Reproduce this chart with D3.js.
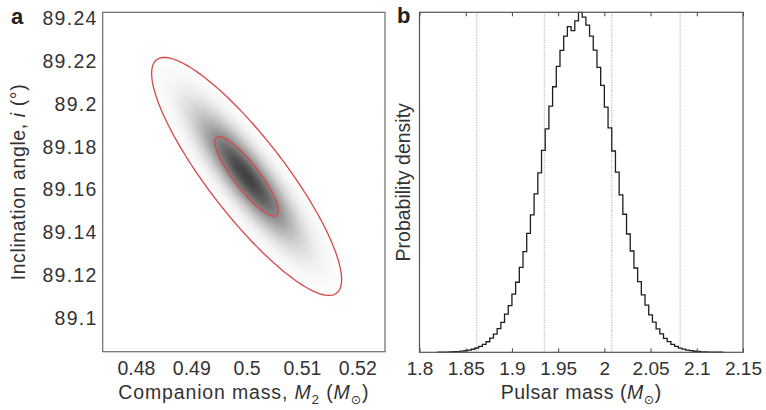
<!DOCTYPE html>
<html>
<head>
<meta charset="utf-8">
<script src="https://cdn.jsdelivr.net/npm/d3@7/dist/d3.min.js"></script>
<style>
  body { margin: 0; background: #fff; }
  svg { display: block; font-family: "Liberation Sans", Arial, sans-serif; }
  .tick text { font-size: 19.5px; fill: #333; }
  .ya .tick text { letter-spacing: 1.3px; }
  .xb .tick text { font-size: 19px; }
</style>
</head>
<body>
<svg id="chart" width="766" height="410"></svg>
<script>
'use strict';

// panel a: joint posterior of companion mass and inclination
const m2Ticks = [0.48, 0.49, 0.50, 0.51, 0.52];
const incTicks = [89.1, 89.12, 89.14, 89.16, 89.18, 89.2, 89.22, 89.24];
const m2Center = 0.500;
const incCenter = 89.1662;
const m2Sigma = 0.00572;
const incSigma = 0.01851;
const m2IncCorr = -0.866;
const contourLevels = [1, 3];

// panel b: pulsar mass histogram
const massTicks = [1.8, 1.85, 1.9, 1.95, 2.0, 2.05, 2.1, 2.15];
const massBinStart = 1.820;
const massBinWidth = 0.004;
const massDensity = [
  0.0003, 0.0005, 0.0007, 0.0010, 0.0016, 0.0022, 0.0033, 0.0046, 0.0066, 0.0090,
  0.0127, 0.0172, 0.0235, 0.0310, 0.0415, 0.0532, 0.0695, 0.0878, 0.112, 0.137,
  0.171, 0.206, 0.250, 0.296, 0.350, 0.404, 0.466, 0.528, 0.594, 0.657,
  0.724, 0.781, 0.841, 0.888, 0.930, 0.958, 0.946, 0.975, 1.000, 0.986,
  0.962, 0.930, 0.889, 0.838, 0.785, 0.721, 0.660, 0.592, 0.530, 0.463,
  0.406, 0.348, 0.298, 0.248, 0.208, 0.169, 0.139, 0.110, 0.0885, 0.0688,
  0.0540, 0.0408, 0.0313, 0.0231, 0.0175, 0.0124, 0.0093, 0.0064, 0.0047, 0.0031,
  0.0023, 0.0015, 0.0011, 0.0007, 0.0005, 0.0003, 0.0002
];
const confidenceBounds = [1.862, 1.935, 2.008, 2.082];

const svg = d3.select("#chart");

// ---------- panel a ----------
const boxA = { left: 102.7, right: 385, top: 12.3, bottom: 351.7 };

const xA = d3.scaleLinear().domain([0.474, 0.525]).range([boxA.left, boxA.right]);
const yA = d3.scaleLinear().domain([89.0844, 89.2428]).range([boxA.bottom, boxA.top]);

const defs = svg.append("defs");
defs.append("clipPath").attr("id", "clipA")
  .append("rect")
  .attr("x", boxA.left).attr("y", boxA.top)
  .attr("width", boxA.right - boxA.left).attr("height", boxA.bottom - boxA.top);

// covariance in pixel space, used for the shaded density blob
const ux = xA(m2Center + m2Sigma) - xA(m2Center);
const uy = yA(incCenter + incSigma) - yA(incCenter);
const ca = ux * ux, cc = uy * uy, cb = m2IncCorr * ux * uy;
const half = Math.sqrt(((ca - cc) / 2) ** 2 + cb * cb);
const lam1 = (ca + cc) / 2 + half;
const lam2 = (ca + cc) / 2 - half;
const theta = 0.5 * Math.atan2(2 * cb, ca - cc) * 180 / Math.PI;

const blobK = 3.6;
const grad = defs.append("radialGradient").attr("id", "dens");
d3.range(0, 1.0001, 0.05).forEach(function (o) {
  const r = blobK * o;
  grad.append("stop")
    .attr("offset", o)
    .attr("stop-color", "#2b2b2b")
    .attr("stop-opacity", 0.9 * Math.exp(-r * r / 2));
});

const gA = svg.append("g").attr("clip-path", "url(#clipA)");
gA.append("ellipse")
  .attr("cx", 0).attr("cy", 0)
  .attr("rx", blobK * Math.sqrt(lam1))
  .attr("ry", blobK * Math.sqrt(lam2))
  .attr("transform", `translate(${xA(m2Center)},${yA(incCenter)}) rotate(${theta})`)
  .attr("fill", "url(#dens)");

// confidence contours
const rhoC = Math.sqrt(1 - m2IncCorr * m2IncCorr);
const contourLine = d3.line()
  .x(function (t) { return t.x; })
  .y(function (t) { return t.y; })
  .curve(d3.curveLinearClosed);

contourLevels.forEach(function (k) {
  const pts = d3.range(0, 2 * Math.PI, Math.PI / 90).map(function (t) {
    const m = m2Center + k * m2Sigma * Math.cos(t);
    const inc = incCenter + k * incSigma * (m2IncCorr * Math.cos(t) + rhoC * Math.sin(t));
    return { x: xA(m), y: yA(inc) };
  });
  gA.append("path")
    .attr("d", contourLine(pts))
    .attr("fill", "none")
    .attr("stroke", "#d6474a")
    .attr("stroke-width", 1.3);
});

svg.append("rect")
  .attr("x", boxA.left).attr("y", boxA.top)
  .attr("width", boxA.right - boxA.left).attr("height", boxA.bottom - boxA.top)
  .attr("fill", "none").attr("stroke", "#6a6a6a").attr("stroke-width", 1.2);

svg.append("g")
  .attr("transform", `translate(0,${boxA.bottom})`)
  .call(d3.axisBottom(xA).tickValues(m2Ticks).tickSize(0).tickPadding(9)
    .tickFormat(function (d) { return String(+d.toFixed(2)); }))
  .call(function (g) { g.select(".domain").remove(); });

svg.append("g")
  .attr("class", "ya")
  .attr("transform", `translate(${boxA.left},0)`)
  .call(d3.axisLeft(yA).tickValues(incTicks).tickSize(0).tickPadding(5)
    .tickFormat(function (d) { return String(+d.toFixed(2)); }))
  .call(function (g) { g.select(".domain").remove(); });

const titleA = svg.append("text")
  .attr("x", (boxA.left + boxA.right) / 2).attr("y", 399)
  .attr("text-anchor", "middle").attr("font-size", 19.5).attr("fill", "#333")
  .attr("letter-spacing", 0.85);
titleA.append("tspan").text("Companion mass, ");
titleA.append("tspan").attr("font-style", "italic").text("M");
titleA.append("tspan").attr("font-size", 13.5).attr("dy", 5).text("2");
titleA.append("tspan").attr("dy", -5).text(" (");
titleA.append("tspan").attr("font-style", "italic").text("M");
titleA.append("tspan").attr("font-size", 12.5).attr("dy", 5).attr("font-family", "DejaVu Sans").text("\u2299");
titleA.append("tspan").attr("dy", -5).text(")");

const yTitleA = svg.append("text")
  .attr("transform", `translate(25,${(boxA.top + boxA.bottom) / 2}) rotate(-90)`)
  .attr("text-anchor", "middle").attr("font-size", 19.5).attr("fill", "#333")
  .attr("letter-spacing", 0.6);
yTitleA.append("tspan").text("Inclination angle, ");
yTitleA.append("tspan").attr("font-style", "italic").text("i");
yTitleA.append("tspan").text(" (°)");

svg.append("text").attr("x", 11).attr("y", 24)
  .attr("font-size", 22).attr("font-weight", "bold").attr("fill", "#222").text("a");

// ---------- panel b ----------
const boxB = { left: 419.5, right: 743, top: 12.3, bottom: 352.3 };

const xB = d3.scaleLinear().domain([1.8, 2.15]).range([boxB.left, boxB.right]);
const yB = d3.scaleLinear().domain([0, 1.0]).range([boxB.bottom, boxB.top]);

svg.append("g").selectAll("line")
  .data(confidenceBounds)
  .join("line")
  .attr("x1", function (d) { return xB(d); })
  .attr("x2", function (d) { return xB(d); })
  .attr("y1", boxB.top).attr("y2", boxB.bottom)
  .attr("stroke", "#9a9a9a").attr("stroke-width", 1)
  .attr("stroke-dasharray", "1,1.5");

// step outline of the histogram
const steps = [];
massDensity.forEach(function (v, i) {
  const x0 = massBinStart + i * massBinWidth;
  steps.push([x0, v], [x0 + massBinWidth, v]);
});
steps.unshift([massBinStart, 0]);
steps.push([massBinStart + massDensity.length * massBinWidth, 0]);

svg.append("path")
  .attr("d", d3.line().x(function (d) { return xB(d[0]); }).y(function (d) { return yB(d[1]); })(steps))
  .attr("fill", "none").attr("stroke", "#1e1e1e").attr("stroke-width", 1.3);

svg.append("g")
  .attr("class", "xb")
  .attr("transform", `translate(0,${boxB.bottom})`)
  .call(d3.axisBottom(xB).tickValues(massTicks).tickSizeInner(-4).tickSizeOuter(0).tickPadding(9)
    .tickFormat(function (d) { return String(+d.toFixed(2)); }))
  .call(function (g) {
    g.select(".domain").remove();
    g.selectAll(".tick line").attr("stroke", "#444");
  });

svg.append("g")
  .attr("transform", `translate(0,${boxB.top})`)
  .call(d3.axisTop(xB).tickValues(massTicks).tickSizeInner(-4).tickSizeOuter(0).tickFormat(""))
  .call(function (g) {
    g.select(".domain").remove();
    g.selectAll(".tick line").attr("stroke", "#444");
  });

svg.append("rect")
  .attr("x", boxB.left).attr("y", boxB.top)
  .attr("width", boxB.right - boxB.left).attr("height", boxB.bottom - boxB.top)
  .attr("fill", "none").attr("stroke", "#555").attr("stroke-width", 1.2);

const titleB = svg.append("text")
  .attr("x", (boxB.left + boxB.right) / 2).attr("y", 399)
  .attr("text-anchor", "middle").attr("font-size", 19.5).attr("fill", "#333")
  .attr("letter-spacing", 0.55);
titleB.append("tspan").text("Pulsar mass (");
titleB.append("tspan").attr("font-style", "italic").text("M");
titleB.append("tspan").attr("font-size", 12.5).attr("dy", 5).attr("font-family", "DejaVu Sans").text("\u2299");
titleB.append("tspan").attr("dy", -5).text(")");

svg.append("text")
  .attr("transform", `translate(410,${(boxB.top + boxB.bottom) / 2}) rotate(-90)`)
  .attr("text-anchor", "middle").attr("font-size", 19.5).attr("fill", "#333")
  .text("Probability density");

svg.append("text").attr("x", 397).attr("y", 23)
  .attr("font-size", 22).attr("font-weight", "bold").attr("fill", "#222").text("b");
</script>
</body>
</html>
